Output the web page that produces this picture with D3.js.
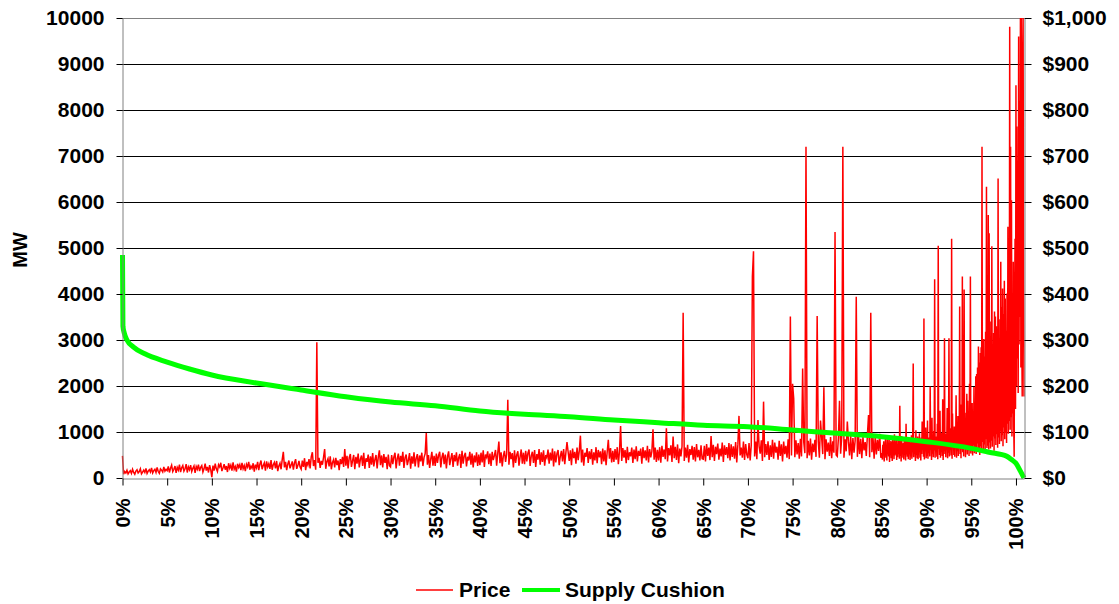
<!DOCTYPE html>
<html>
<head>
    <meta charset="utf-8">
    <script src="https://d3js.org/d3.v7.min.js"></script>
    <style>
        body { margin: 0; background: #fff; }
        text { font-family: "Liberation Sans", Arial, sans-serif; font-weight: bold; fill: #000; }
    </style>
</head>
<body>
    <div id="chart"></div>

    <script>
        // tick labels
        const mwTicks = [0, 1000, 2000, 3000, 4000, 5000, 6000, 7000, 8000, 9000, 10000];
        const priceTicks = [0, 100, 200, 300, 400, 500, 600, 700, 800, 900, 1000];
        const pctTicks = [0, 5, 10, 15, 20, 25, 30, 35, 40, 45, 50, 55, 60, 65, 70, 75, 80, 85, 90, 95, 100];

        // supply cushion (MW) against share of hours (%)
        const cushionPct = [0, 0.05, 0.2, 0.5, 1.2, 2.5, 5, 7.5, 10, 15, 20, 25, 30, 35, 40, 45, 50, 55, 60, 65, 70, 75, 80, 85, 90, 95, 97, 99, 99.5, 100, 100.5, 100.9];
        const cushionMW = [4850, 3300, 3150, 3000, 2850, 2700, 2520, 2370, 2240, 2065, 1913, 1767, 1650, 1572, 1457, 1384, 1333, 1261, 1203, 1145, 1116, 1043, 971, 898, 790, 645, 560, 470, 400, 320, 150, 0];

        // price ($/MWh), every 0.125% from 0% to 85% (one row = 5%)
        const priceHead = [
            48, 8, 14, 11, 17, 9, 13, 16, 10, 19, 12, 8, 15, 18, 11, 14, 20, 9, 13, 17, 12, 21, 10, 15, 18, 13, 22, 11, 16, 19, 12, 23, 14, 10, 20, 17, 13, 24, 15, 19,
            16, 25, 12, 21, 28, 14, 19, 26, 11, 23, 17, 29, 13, 22, 27, 15, 20, 30, 12, 24, 18, 28, 14, 21, 26, 11, 25, 19, 29, 15, 23, 27, 13, 20, 31, 16, 24, 12, 28, 18,
            2, 27, 16, 31, 20, 14, 29, 24, 33, 15, 22, 30, 18, 26, 13, 32, 21, 28, 16, 34, 19, 25, 14, 31, 23, 29, 17, 33, 20, 27, 15, 30, 24, 35, 18, 26, 21, 32, 14, 29,
            22, 35, 17, 30, 38, 19, 27, 33, 16, 36, 24, 31, 20, 39, 18, 29, 34, 21, 37, 15, 26, 32, 19, 40, 57, 23, 35, 17, 30, 38, 21, 28, 36, 18, 33, 41, 20, 27, 37, 24,
            19, 38, 24, 43, 17, 35, 28, 41, 21, 46, 56, 26, 39, 18, 295, 33, 44, 22, 37, 29, 45, 63, 20, 36, 42, 25, 47, 19, 34, 40, 23, 44, 28, 38, 17, 41, 30, 46, 24, 63,
            27, 48, 21, 44, 52, 24, 38, 50, 19, 46, 31, 53, 23, 41, 49, 26, 55, 20, 43, 35, 51, 22, 47, 29, 54, 25, 40, 50, 21, 45, 60, 28, 49, 23, 52, 33, 46, 19, 51, 27,
            24, 50, 30, 46, 55, 21, 42, 53, 27, 48, 35, 57, 22, 44, 51, 28, 39, 54, 20, 47, 31, 56, 25, 43, 52, 23, 49, 36, 55, 26, 45, 53, 98, 29, 50, 22, 41, 57, 27, 48,
            26, 53, 33, 49, 57, 23, 45, 55, 30, 51, 21, 47, 58, 28, 42, 54, 24, 50, 36, 56, 27, 44, 52, 22, 59, 31, 48, 55, 25, 46, 38, 57, 29, 53, 23, 49, 34, 56, 26, 51,
            28, 55, 34, 60, 24, 51, 45, 58, 30, 53, 26, 57, 39, 49, 61, 27, 54, 79, 32, 56, 25, 48, 59, 35, 52, 170, 29, 57, 41, 54, 23, 60, 33, 50, 58, 27, 46, 62, 31, 55,
            30, 59, 36, 54, 62, 26, 48, 57, 33, 61, 24, 52, 40, 63, 29, 56, 35, 60, 27, 50, 44, 62, 31, 55, 38, 64, 25, 58, 34, 53, 61, 28, 47, 59, 36, 63, 30, 55, 78, 57,
            37, 60, 28, 64, 43, 57, 31, 66, 39, 59, 92, 34, 62, 27, 55, 46, 65, 33, 58, 41, 63, 29, 56, 38, 67, 32, 61, 45, 58, 30, 64, 36, 60, 28, 57, 83, 42, 65, 34, 59,
            35, 63, 40, 67, 30, 58, 113, 37, 65, 44, 61, 32, 68, 39, 56, 47, 66, 33, 62, 41, 69, 36, 59, 48, 64, 31, 67, 43, 60, 38, 70, 34, 63, 45, 58, 106, 40, 66, 35, 61,
            38, 67, 33, 70, 46, 62, 41, 108, 36, 65, 49, 71, 35, 90, 43, 68, 39, 73, 32, 64, 47, 69, 359, 37, 66, 44, 72, 34, 63, 50, 70, 40, 67, 36, 74, 45, 61, 38, 71, 42,
            41, 70, 36, 74, 48, 66, 39, 91, 45, 72, 37, 68, 52, 75, 40, 64, 47, 77, 35, 71, 50, 67, 43, 76, 38, 73, 46, 69, 42, 78, 34, 72, 135, 49, 66, 44, 79, 39, 74, 51,
            43, 76, 38, 72, 438, 493, 47, 79, 41, 126, 69, 53, 82, 37, 166, 45, 74, 50, 80, 39, 71, 46, 83, 42, 77, 55, 68, 40, 81, 48, 73, 36, 79, 52, 70, 44, 84, 41, 351, 49,
            205, 173, 45, 82, 51, 76, 42, 85, 47, 238, 78, 54, 720, 43, 81, 49, 86, 40, 75, 56, 83, 46, 352, 79, 44, 125, 88, 52, 197, 41, 84, 57, 77, 48, 89, 43, 80, 55, 535, 50,
            47, 86, 168, 53, 90, 720, 44, 84, 58, 123, 79, 49, 92, 41, 87, 55, 81, 394, 46, 93, 52, 85, 43, 89, 60, 78, 48, 94, 137, 45, 359, 56, 88, 42, 91, 51, 83, 59, 96, 44,
            54
        ];
        // price, every 0.05% from 85.05% to 100.9% (one row = 1%)
        const priceTail = [
            40, 72, 52, 80, 36, 64, 58, 88, 44, 70, 38, 84, 55, 66, 47, 92, 35, 75, 58, 81,
            43, 78, 37, 86, 56, 69, 41, 95, 49, 65, 62, 83, 39, 74, 45, 89, 53, 71, 42, 157,
            48, 80, 36, 91, 57, 68, 44, 76, 40, 87, 63, 72, 38, 118, 51, 70, 46, 85, 41, 79,
            54, 86, 39, 74, 47, 93, 42, 70, 101, 249, 45, 82, 59, 77, 37, 104, 50, 73, 43, 90,
            41, 84, 56, 97, 44, 76, 38, 88, 52, 123, 64, 79, 46, 347, 40, 92, 58, 110, 43, 81,
            48, 125, 42, 88, 55, 80, 47, 199, 61, 94, 39, 131, 53, 77, 45, 102, 60, 432, 44, 86,
            57, 90, 46, 118, 41, 505, 63, 84, 50, 146, 44, 79, 66, 98, 48, 171, 39, 88, 58, 304,
            52, 96, 45, 83, 68, 152, 43, 92, 55, 304, 47, 108, 61, 87, 49, 520, 42, 140, 64, 95,
            50, 112, 46, 89, 70, 180, 44, 101, 58, 135, 48, 93, 66, 373, 52, 126, 43, 160, 62, 438,
            56, 118, 47, 410, 64, 142, 45, 99, 72, 183, 51, 168, 60, 121, 48, 205, 67, 438, 53, 150,
            58, 163, 49, 140, 71, 198, 54, 132, 66, 221, 52, 226, 75, 240, 57, 286, 63, 251, 50, 272,
            69, 284, 56, 720, 78, 255, 61, 302, 73, 264, 58, 318, 84, 633, 65, 290, 70, 572, 62, 532,
            77, 296, 64, 340, 81, 504, 68, 278, 90, 315, 59, 362, 86, 351, 72, 330, 95, 298, 66, 651,
            88, 345, 74, 264, 101, 470, 80, 372, 93, 412, 69, 356, 110, 429, 84, 390, 98, 320, 76, 401,
            118, 546, 96, 430, 124, 981, 105, 720, 132, 604, 90, 315, 140, 470, 112, 46, 380, 520, 150, 854,
            200, 764, 260, 690, 185, 960, 290, 820, 350, 1000, 240, 1000, 310, 177, 900, 1000, 420, 177
        ];

        const headStep = 0.125, tailStep = 0.05, tailStart = 85;

        const width = 1119;
        const height = 604;
        const margin = {top: 18, right: 95, bottom: 126, left: 122};
        const plotRight = width - margin.right;   // 1024
        const plotBottom = height - margin.bottom; // 478

        const svg = d3.select("#chart")
            .append("svg")
            .attr("width", width)
            .attr("height", height);

        // scales
        const x = d3.scaleLinear().domain([0, 100.9]).range([margin.left + 0.5, plotRight]);
        const yMW = d3.scaleLinear().domain([0, 10000]).range([plotBottom, margin.top]);
        const yPrice = d3.scaleLinear().domain([0, 1000]).range([plotBottom, margin.top]);

        // gridlines
        svg.append("g")
            .selectAll("line")
            .data(mwTicks.filter(d => d > 0 && d < 10000))
            .enter()
            .append("line")
            .attr("x1", margin.left)
            .attr("x2", plotRight)
            .attr("y1", d => Math.round(yMW(d)) + 0.5)
            .attr("y2", d => Math.round(yMW(d)) + 0.5)
            .attr("stroke", "#000")
            .attr("stroke-width", 1);

        // top border
        svg.append("line")
            .attr("x1", margin.left).attr("x2", plotRight)
            .attr("y1", margin.top + 0.5).attr("y2", margin.top + 0.5)
            .attr("stroke", "#808080");

        // series
        const priceData = priceHead.map((v, i) => ({p: i * headStep, v: v}))
            .concat(priceTail.map((v, j) => ({p: tailStart + (j + 1) * tailStep, v: v})));
        const cushionData = cushionPct.map((p, i) => ({p: p, v: cushionMW[i]}));

        svg.append("path")
            .datum(priceData)
            .attr("fill", "none")
            .attr("stroke", "#ff0000")
            .attr("stroke-width", 1.5)
            .attr("stroke-linejoin", "miter")
            .attr("d", d3.line().x(d => x(d.p)).y(d => yPrice(d.v)));

        svg.append("path")
            .datum(cushionData)
            .attr("fill", "none")
            .attr("stroke", "#00ff00")
            .attr("stroke-width", 5)
            .attr("stroke-linejoin", "round")
            .attr("d", d3.line().curve(d3.curveMonotoneX).x(d => x(d.p)).y(d => yMW(d.v)));

        // axes
        const styleAxis = g => {
            g.select(".domain").attr("stroke", "#808080");
            g.selectAll(".tick line").attr("stroke", "#000");
            g.selectAll(".tick text").attr("font-size", 21).attr("font-family", null).attr("fill", "#000");
        };

        svg.append("g")
            .attr("transform", `translate(${margin.left + 0.5},0)`)
            .call(d3.axisLeft(yMW).tickValues(mwTicks).tickFormat(d3.format("d")).tickSize(6).tickPadding(12).tickSizeOuter(0))
            .call(styleAxis);

        svg.append("g")
            .attr("transform", `translate(${plotRight + 0.5},0)`)
            .call(d3.axisRight(yPrice).tickValues(priceTicks).tickFormat(d3.format("$,.0f")).tickSize(7).tickPadding(11).tickSizeOuter(0))
            .call(styleAxis);

        const xAxis = svg.append("g")
            .attr("transform", `translate(0,${plotBottom + 0.5})`)
            .call(d3.axisBottom(x).tickValues(pctTicks).tickFormat(d => d + "%").tickSize(7).tickSizeOuter(0))
            .call(styleAxis);
        xAxis.selectAll(".tick text")
            .attr("font-size", 20)
            .attr("text-anchor", "end")
            .attr("transform", "rotate(-90)")
            .attr("x", -20)
            .attr("y", 0)
            .attr("dy", "0.35em");

        // axis title
        svg.append("text")
            .attr("transform", "translate(27,250) rotate(-90)")
            .attr("text-anchor", "middle")
            .attr("font-size", 20)
            .text("MW");

        // legend
        const legend = svg.append("g").attr("transform", "translate(0,590)");
        legend.append("line").attr("x1", 416).attr("x2", 453).attr("y1", 0).attr("y2", 0)
            .attr("stroke", "#ff0000").attr("stroke-width", 1.5);
        legend.append("text").attr("x", 459).attr("y", 0).attr("dy", "0.35em")
            .attr("font-size", 21).text("Price");
        legend.append("line").attr("x1", 522).attr("x2", 560).attr("y1", 0).attr("y2", 0)
            .attr("stroke", "#00ff00").attr("stroke-width", 4);
        legend.append("text").attr("x", 565).attr("y", 0).attr("dy", "0.35em")
            .attr("font-size", 21).text("Supply Cushion");
    </script>
</body>
</html>
